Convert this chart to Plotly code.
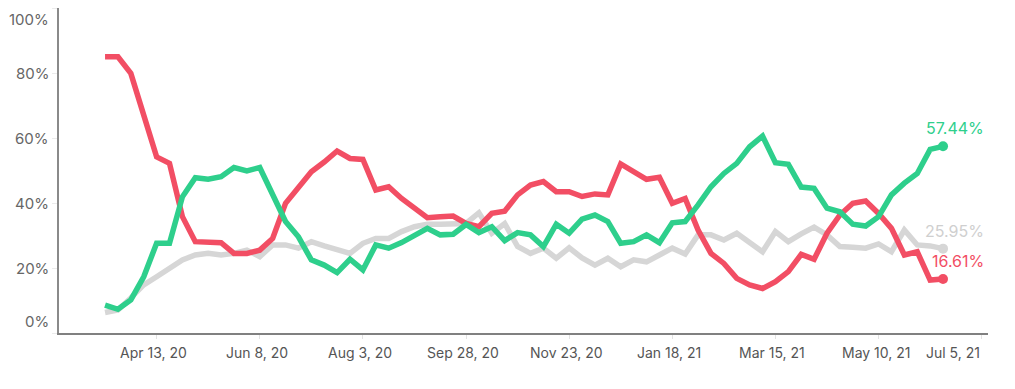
import datetime as dt
import plotly.graph_objects as go

start = dt.date(2020, 3, 16)
dates = [start + dt.timedelta(weeks=i) for i in range(66)]

red_vals = [85.0, 85.0, 79.9, 67.5, 54.2, 52.2, 35.8, 28.1, 27.8, 27.8,
            24.5, 24.5, 25.5, 29.1, 39.9, 44.5, 49.6, 52.6, 56.0, 53.7,
            53.4, 44.0, 45.0, 41.4, 38.4, 35.5, 35.8, 36.0, 33.7, 32.7,
            36.8, 37.5, 42.5, 45.5, 46.6, 43.5, 43.5, 42.0, 42.8, 42.5,
            52.0, 49.6, 47.3, 47.9, 39.9, 41.4, 31.7, 24.5, 21.4, 16.8,
            14.8, 13.7, 15.8, 18.9, 24.2, 22.7, 30.7, 36.3, 39.9, 40.6,
            36.8, 32.2, 24.0, 25.0, 16.3, 16.61]

green_vals = [8.6, 7.3, 10.2, 17.3, 27.6, 27.6, 41.9, 47.8, 47.3, 48.1,
              50.9, 49.9, 50.9, 43.0, 34.3, 29.6, 22.5, 20.9, 18.6, 22.7,
              19.4, 27.1, 26.1, 27.8, 29.8, 32.2, 30.2, 30.4, 33.4, 30.9,
              32.7, 28.4, 30.9, 30.2, 26.6, 33.5, 30.7, 35.0, 36.3, 34.3,
              27.6, 28.1, 30.2, 27.8, 33.9, 34.3, 39.4, 45.0, 49.1, 52.2,
              57.3, 60.6, 52.4, 51.9, 44.9, 44.5, 38.4, 37.3, 33.5, 32.9,
              35.8, 42.5, 46.1, 49.1, 56.5, 57.44]

gray_vals = [6.3, 7.1, 10.8, 14.8, 17.3, 19.9, 22.5, 24.0, 24.5, 24.0,
             24.5, 25.5, 23.5, 27.1, 27.1, 26.1, 28.1, 26.8, 25.5, 24.5,
             27.6, 29.1, 29.1, 31.2, 32.7, 33.5, 33.5, 33.4, 33.7, 37.0,
             30.7, 33.7, 26.6, 24.5, 26.1, 23.0, 26.2, 23.1, 20.9, 23.0,
             20.4, 22.5, 21.9, 24.0, 26.1, 24.3, 30.2, 30.2, 28.6, 30.7,
             28.1, 25.0, 31.2, 28.1, 30.5, 32.6, 30.2, 26.6, 26.4, 26.1,
             27.4, 25.0, 31.7, 27.1, 26.8, 25.95]

x_tick_dates = ["2020-04-13", "2020-06-08", "2020-08-03", "2020-09-28",
                "2020-11-23", "2021-01-18", "2021-03-15", "2021-05-10",
                "2021-07-05"]
x_tick_labels = ["Apr 13, 20", "Jun 8, 20", "Aug 3, 20", "Sep 28, 20",
                 "Nov 23, 20", "Jan 18, 21", "Mar 15, 21", "May 10, 21",
                 "Jul 5, 21"]
y_tick_vals = [0, 20, 40, 60, 80, 100]
y_tick_labels = ["0%", "20%", "40%", "60%", "80%", "100%"]

RED = "#F24E64"
GREEN = "#2ECF8C"
GRAY = "#D6D6D6"
FONT = "Inter"

fig = go.Figure()
for vals, color in [(gray_vals, GRAY), (red_vals, RED), (green_vals, GREEN)]:
    fig.add_trace(go.Scatter(
        x=dates, y=vals, mode="lines",
        line=dict(color=color, width=5.5),
        hoverinfo="skip", showlegend=False,
    ))
    fig.add_trace(go.Scatter(
        x=[dates[-1]], y=[vals[-1]], mode="markers",
        marker=dict(color=color, size=10),
        hoverinfo="skip", showlegend=False, cliponaxis=False,
    ))

annotations = []
for d, lab in zip(x_tick_dates, x_tick_labels):
    last = lab == x_tick_labels[-1]
    annotations.append(dict(
        x=d, y=0, xref="x", yref="paper", text=lab, showarrow=False,
        xanchor="right" if last else "center", yanchor="middle",
        xshift=0 if last else -3, yshift=-19,
        font=dict(family=FONT, size=14, color="#555555"),
    ))
for v, lab in zip(y_tick_vals, y_tick_labels):
    anchor = "top" if v == 100 else ("bottom" if v == 0 else "middle")
    annotations.append(dict(
        x=0, y=v, xref="paper", yref="y", text=lab, showarrow=False,
        xanchor="right", yanchor=anchor, xshift=-8,
        font=dict(family=FONT, size=15, color="#666666"),
    ))
for vals, color in [(green_vals, GREEN), (gray_vals, "#CFCFCF"), (red_vals, RED)]:
    annotations.append(dict(
        x=dates[-1], y=vals[-1], xref="x", yref="y",
        text=f"{vals[-1]:.2f}%", showarrow=False,
        xanchor="right", yanchor="middle", xshift=43, yshift=18,
        font=dict(family=FONT, size=16, color=color),
    ))

fig.update_layout(
    width=999, height=373,
    margin=dict(l=51, r=19, t=0, b=48),
    paper_bgcolor="white", plot_bgcolor="white",
    annotations=annotations,
    xaxis=dict(
        range=["2020-02-20", "2021-07-08 10:00"],
        tickvals=x_tick_dates, showticklabels=False,
        ticks="outside", ticklen=4, tickcolor="#E3E3E3",
        showgrid=False, zeroline=False,
        showline=True, linecolor="#808080", linewidth=2,
    ),
    yaxis=dict(
        range=[0, 100], tickvals=y_tick_vals, showticklabels=False,
        ticks="outside", ticklen=5, tickcolor="#EBEBEB",
        showgrid=False, zeroline=False,
        showline=True, linecolor="#8A8A8A", linewidth=1.5,
    ),
)

fig.write_html("out.html")
